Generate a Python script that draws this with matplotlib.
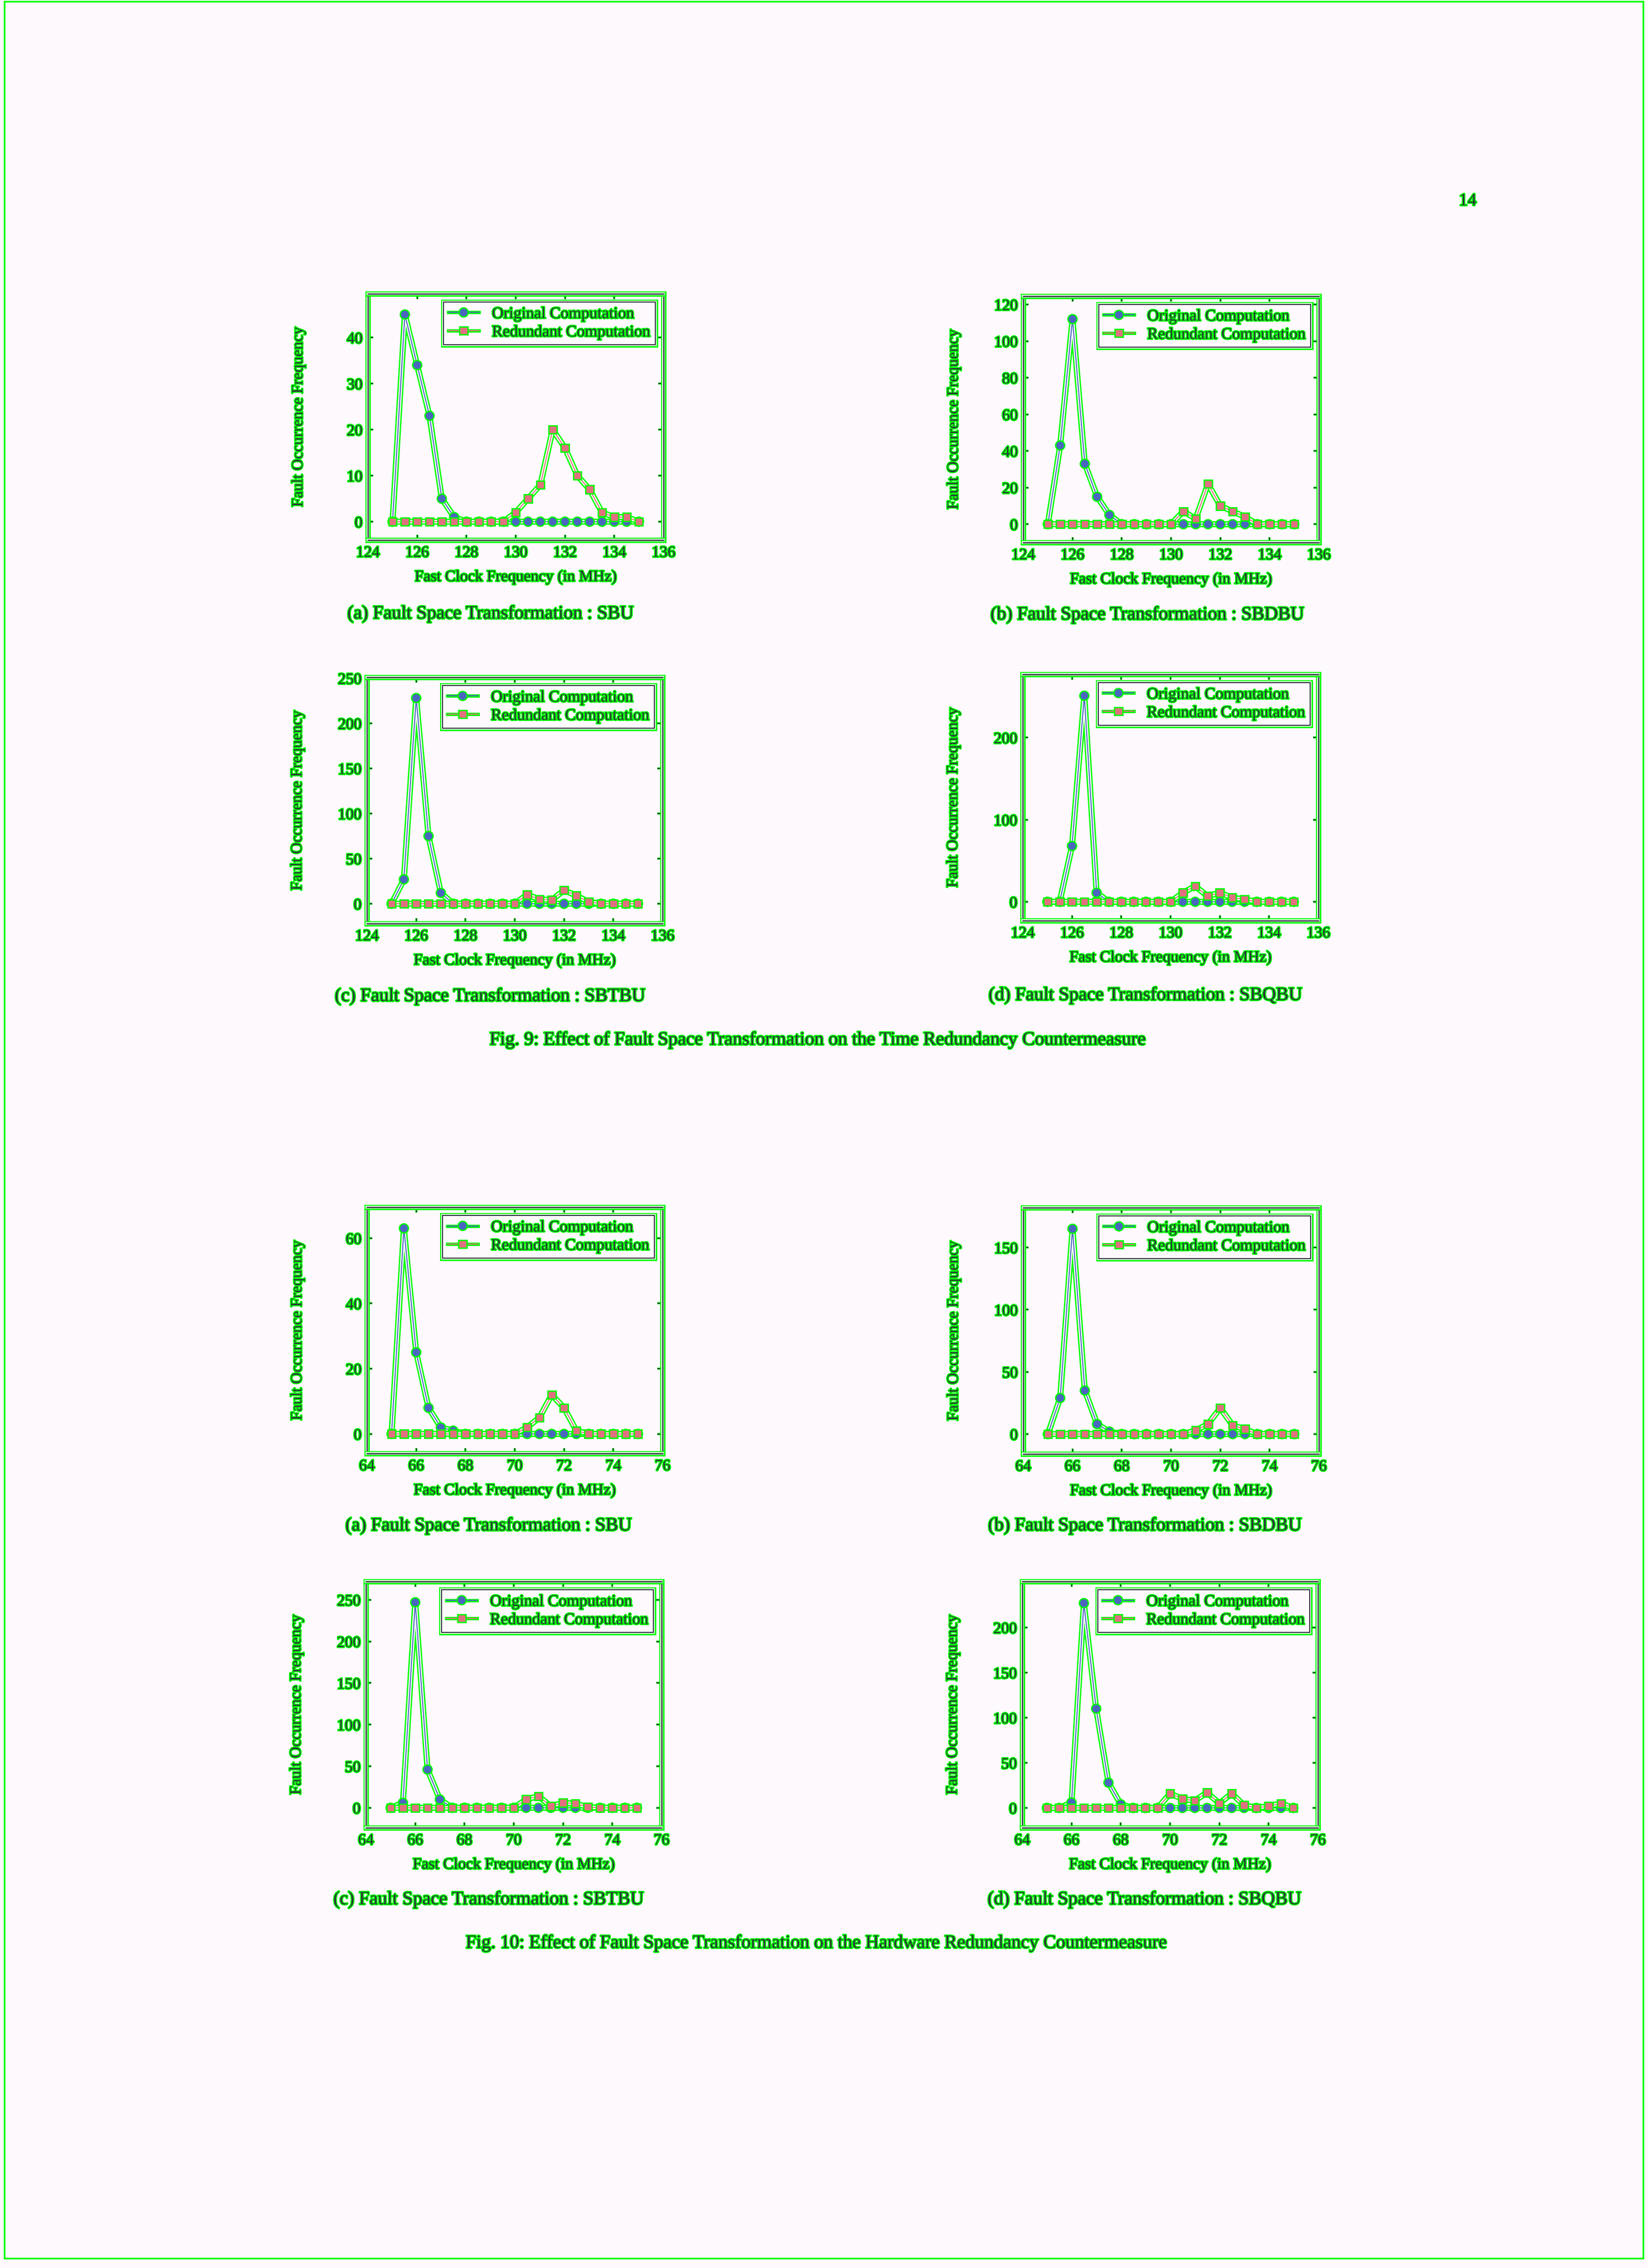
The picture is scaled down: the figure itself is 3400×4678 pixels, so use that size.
import matplotlib
matplotlib.use("Agg")
import matplotlib.pyplot as plt
import matplotlib.patheffects as pe
from matplotlib.lines import Line2D
from matplotlib.patches import Rectangle

# --- data ---
freq_time = [125.0, 125.5, 126.0, 126.5, 127.0, 127.5, 128.0, 128.5, 129.0, 129.5, 130.0,
             130.5, 131.0, 131.5, 132.0, 132.5, 133.0, 133.5, 134.0, 134.5, 135.0]
freq_hw = [65.0, 65.5, 66.0, 66.5, 67.0, 67.5, 68.0, 68.5, 69.0, 69.5, 70.0,
           70.5, 71.0, 71.5, 72.0, 72.5, 73.0, 73.5, 74.0, 74.5, 75.0]

# Fig. 9 : time redundancy
time_sbu_orig = [0, 45, 34, 23, 5, 1, 0, 0, 0, 0, 0, 0, 0, 0, 0, 0, 0, 0, 0, 0, 0]
time_sbu_red = [0, 0, 0, 0, 0, 0, 0, 0, 0, 0, 2, 5, 8, 20, 16, 10, 7, 2, 1, 1, 0]
time_sbdbu_orig = [0, 43, 112, 33, 15, 5, 0, 0, 0, 0, 0, 0, 0, 0, 0, 0, 0, 0, 0, 0, 0]
time_sbdbu_red = [0, 0, 0, 0, 0, 0, 0, 0, 0, 0, 0, 7, 3, 22, 10, 7, 4, 0, 0, 0, 0]
time_sbtbu_orig = [0, 27, 228, 75, 12, 0, 0, 0, 0, 0, 0, 0, 0, 0, 0, 0, 0, 0, 0, 0, 0]
time_sbtbu_red = [0, 0, 0, 0, 0, 0, 0, 0, 0, 0, 0, 10, 5, 4, 15, 9, 2, 0, 0, 0, 0]
time_sbqbu_orig = [0, 0, 68, 251, 11, 0, 0, 0, 0, 0, 0, 0, 0, 0, 0, 0, 0, 0, 0, 0, 0]
time_sbqbu_red = [0, 0, 0, 0, 0, 0, 0, 0, 0, 0, 0, 11, 19, 7, 11, 5, 3, 0, 0, 0, 0]

# Fig. 10 : hardware redundancy
hw_sbu_orig = [0, 63, 25, 8, 2, 1, 0, 0, 0, 0, 0, 0, 0, 0, 0, 0, 0, 0, 0, 0, 0]
hw_sbu_red = [0, 0, 0, 0, 0, 0, 0, 0, 0, 0, 0, 2, 5, 12, 8, 1, 0, 0, 0, 0, 0]
hw_sbdbu_orig = [0, 29, 165, 35, 8, 2, 0, 0, 0, 0, 0, 0, 0, 0, 0, 0, 0, 0, 0, 0, 0]
hw_sbdbu_red = [0, 0, 0, 0, 0, 0, 0, 0, 0, 0, 0, 0, 3, 8, 21, 7, 4, 0, 0, 0, 0]
hw_sbtbu_orig = [0, 6, 247, 46, 10, 0, 0, 0, 0, 0, 0, 0, 0, 0, 0, 0, 0, 0, 0, 0, 0]
hw_sbtbu_red = [0, 0, 0, 0, 0, 0, 0, 0, 0, 0, 0, 10, 14, 2, 6, 5, 1, 0, 0, 0, 0]
hw_sbqbu_orig = [0, 0, 6, 227, 110, 28, 4, 0, 0, 0, 0, 0, 0, 0, 0, 0, 0, 0, 0, 0, 0]
hw_sbqbu_red = [0, 0, 0, 0, 0, 0, 0, 0, 0, 0, 16, 10, 8, 17, 5, 16, 3, 0, 2, 5, 0]

xticks_time = [124, 126, 128, 130, 132, 134, 136]
xticks_hw = [64, 66, 68, 70, 72, 74, 76]

captions = ["(a) Fault Space Transformation : SBU",
            "(b) Fault Space Transformation : SBDBU",
            "(c) Fault Space Transformation : SBTBU",
            "(d) Fault Space Transformation : SBQBU"]
fig9_caption = "Fig. 9: Effect of Fault Space Transformation on the Time Redundancy Countermeasure"
fig10_caption = "Fig. 10: Effect of Fault Space Transformation on the Hardware Redundancy Countermeasure"

GREEN = '#00ff00'
INK = '#2e2e3c'
BLUE = '#4a66bf'
RED = '#e0717f'
BG = '#fdf9fd'

plt.rcParams['font.family'] = ['Liberation Serif', 'DejaVu Serif']
plt.rcParams['path.effects'] = [pe.withStroke(linewidth=3.2, foreground=GREEN)]

# green contour round a line, with a pale gap between contour and line
contour = [pe.Stroke(linewidth=9, foreground=GREEN),
           pe.Stroke(linewidth=5, foreground=BG),
           pe.Normal()]
halo = [pe.withStroke(linewidth=5, foreground=GREEN)]
frame_fx = [pe.Stroke(linewidth=8, foreground=GREEN),
            pe.Stroke(linewidth=4, foreground=BG),
            pe.Normal()]

W, H = 3400, 4678
fig = plt.figure(figsize=(W / 100, H / 100), dpi=100, facecolor=BG)
fig.patch.set_path_effects([])


def panel(left, top, x, orig, red, ylim, yticks, xticks):
    w, h = 610, 508
    ax = fig.add_axes([left / W, 1 - (top + h) / H, w / W, h / H])
    ax.set_facecolor(BG)
    ax.patch.set_path_effects([])
    ax.plot(x, orig, color=BLUE, lw=1.5, path_effects=contour)
    ax.plot(x, orig, ls='none', marker='o', ms=10.5, mfc=BLUE, mec=BLUE, path_effects=halo)
    ax.plot(x, red, color=RED, lw=1.5, path_effects=contour)
    ax.plot(x, red, ls='none', marker='s', ms=9, mfc=RED, mec=RED, path_effects=halo)
    ax.set_xlim(xticks[0], xticks[-1])
    ax.set_ylim(*ylim)
    ax.set_xticks(xticks)
    ax.set_yticks(yticks)
    ax.tick_params(direction='in', top=True, right=True, length=8, width=1.5,
                   labelsize=23.5, colors=INK, pad=8)
    for s in ax.spines.values():
        s.set_color(INK)
        s.set_linewidth(1.8)
        s.set_path_effects(frame_fx)
    ax.set_xlabel('Fast Clock Frequency (in MHz)', fontsize=23.5, color=INK)
    ax.set_ylabel('Fault Occurrence Frequency', fontsize=23.5, color=INK)
    ax.xaxis.set_label_coords(0.5, -0.12)
    ax.yaxis.set_label_coords(-0.21, 0.5)
    handles = [Line2D([], [], color=BLUE, lw=1.5, marker='o', ms=10.5, path_effects=halo),
               Line2D([], [], color=RED, lw=1.5, marker='s', ms=9, path_effects=halo)]
    leg = ax.legend(handles, ['Original Computation', 'Redundant Computation'],
                    loc='upper right', fontsize=24, frameon=True, fancybox=False,
                    edgecolor=INK, facecolor=BG, framealpha=1, borderaxespad=0.5,
                    handlelength=1.9, labelspacing=0.2, borderpad=0.3,
                    handletextpad=0.8)
    leg.get_frame().set_linewidth(1.5)
    leg.get_frame().set_path_effects(frame_fx)
    for t in leg.get_texts():
        t.set_color(INK)
    return ax


# Fig. 9
panel(759, 606, freq_time, time_sbu_orig, time_sbu_red, (-4, 49.5), [0, 10, 20, 30, 40], xticks_time)
panel(2111, 611, freq_time, time_sbdbu_orig, time_sbdbu_red, (-10, 124.5), [0, 20, 40, 60, 80, 100, 120], xticks_time)
panel(757, 1397, freq_time, time_sbtbu_orig, time_sbtbu_red, (-22, 251), [0, 50, 100, 150, 200, 250], xticks_time)
panel(2110, 1391, freq_time, time_sbqbu_orig, time_sbqbu_red, (-23, 277), [0, 100, 200], xticks_time)

# Fig. 10
panel(757, 2490, freq_hw, hw_sbu_orig, hw_sbu_red, (-6, 69.5), [0, 20, 40, 60], xticks_hw)
panel(2111, 2491, freq_hw, hw_sbdbu_orig, hw_sbdbu_red, (-16, 182), [0, 50, 100, 150], xticks_hw)
panel(755, 3262, freq_hw, hw_sbtbu_orig, hw_sbtbu_red, (-24, 272), [0, 50, 100, 150, 200, 250], xticks_hw)
panel(2109, 3262, freq_hw, hw_sbqbu_orig, hw_sbqbu_red, (-22, 251), [0, 50, 100, 150, 200], xticks_hw)


def ftext(x, y, s, size=28):
    fig.text(x / W, 1 - y / H, s, ha='center', va='center', fontsize=size, color=INK)


ftext(1012, 1266, captions[0])
ftext(2367, 1268, captions[1])
ftext(1011, 2055, captions[2])
ftext(2363, 2053, captions[3])
ftext(1687, 2145, fig9_caption)

ftext(1008, 3147, captions[0])
ftext(2362, 3147, captions[1])
ftext(1008, 3918, captions[2])
ftext(2361, 3918, captions[3])
ftext(1684, 4008, fig10_caption)

ftext(3028, 415, "14", size=26)

# scanned page edge
fig.patches.append(Rectangle((9 / W, 20 / H), 3381 / W, 4655 / H, transform=fig.transFigure,
                             fill=False, edgecolor=GREEN, linewidth=2.5, path_effects=[]))

fig.savefig('out.png', dpi=100, facecolor=BG)
